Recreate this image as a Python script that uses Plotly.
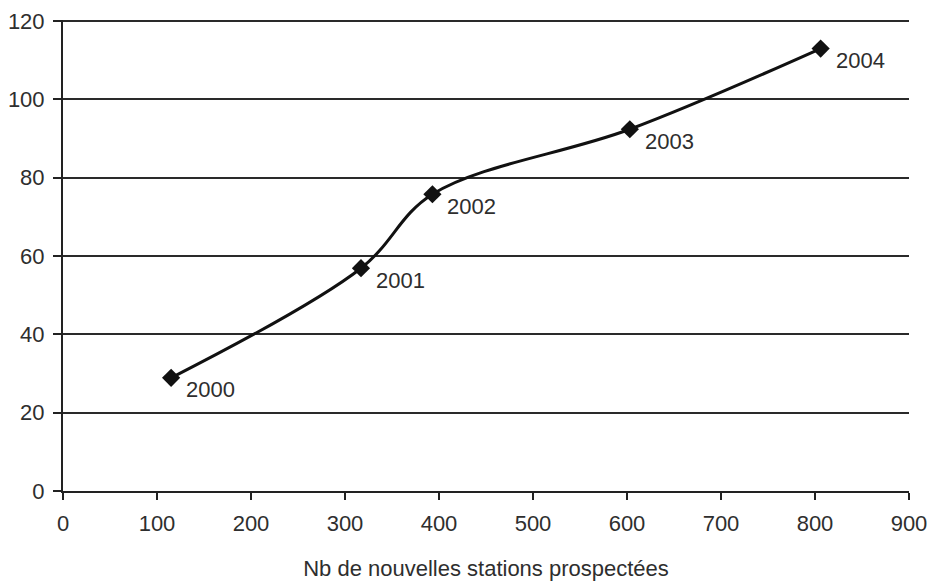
import plotly.graph_objects as go

stations = [115, 317, 393, 603, 806]
values = [28.9, 56.9, 75.8, 92.4, 113.0]
years = ["2000", "2001", "2002", "2003", "2004"]
x_ticks = [0, 100, 200, 300, 400, 500, 600, 700, 800, 900]
y_ticks = [0, 20, 40, 60, 80, 100, 120]
x_title = "Nb de nouvelles stations prospectées"

font = dict(family="Liberation Sans, Arial, sans-serif", size=22, color="#2e2e2e")

fig = go.Figure()
fig.add_trace(go.Scatter(
    x=stations, y=values,
    mode="lines+markers",
    line=dict(color="#111111", width=3, shape="spline", smoothing=1),
    marker=dict(symbol="diamond", size=14, color="#111111"),
    showlegend=False,
    cliponaxis=False,
))
for xv, yv, t in zip(stations, values, years):
    fig.add_annotation(x=xv, y=yv, text=t, showarrow=False,
                       xanchor="left", yanchor="middle",
                       xshift=13, yshift=-12, font=font)

fig.update_layout(
    width=932, height=581,
    margin=dict(l=63, r=23, t=20, b=90),
    paper_bgcolor="white", plot_bgcolor="white",
    font=font,
)
fig.update_xaxes(
    range=[0, 900], tickvals=x_ticks, ticks="outside", ticklen=7, tickwidth=2,
    tickcolor="#222222", showline=True, linecolor="#222222", linewidth=2,
    showgrid=False, zeroline=False, ticklabelstandoff=5, automargin=False,
    ticklabeloverflow="allow",
    title=dict(text=x_title, standoff=27, font=font),
)
fig.update_yaxes(
    range=[0, 120.3], tickvals=y_ticks, ticks="outside", ticklen=8, tickwidth=2,
    tickcolor="#222222", showline=True, linecolor="#222222", linewidth=2,
    showgrid=True, gridcolor="#2a2a2a", gridwidth=2, zeroline=False,
    ticklabelstandoff=4, automargin=False, ticklabeloverflow="allow",
)
fig.write_html(
    "out.html",
    config={"displayModeBar": False},
    post_script="document.body.style.margin='0px';document.body.style.overflow='hidden';",
)
